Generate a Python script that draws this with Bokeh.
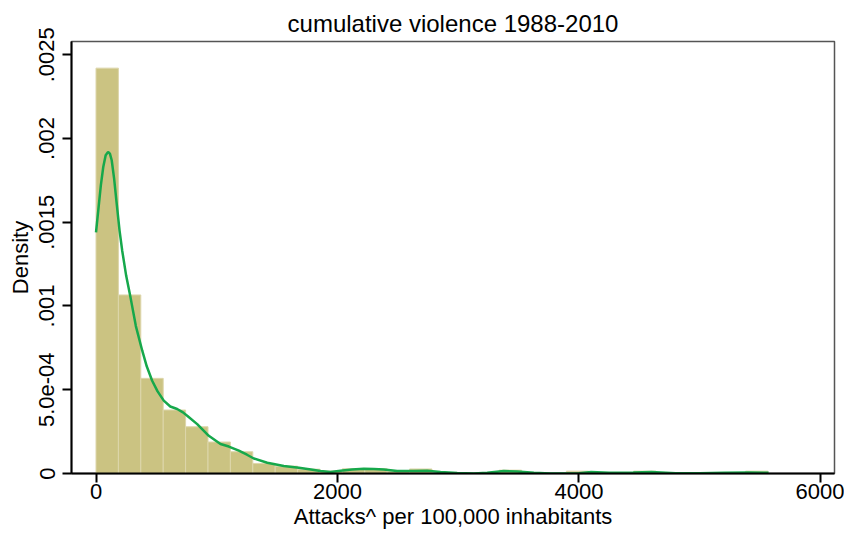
from bokeh.plotting import figure
from bokeh.models import FixedTicker, Range1d
from bokeh.embed import file_html
from bokeh.resources import INLINE

# ---- data ----
bin_start = 0.0
bin_width = 185.5
hist_density = [0.00242, 0.001066, 0.000568, 0.000379, 0.000279, 0.000188,
                0.00013, 0.00006, 0.000044, 0.000026, 0.000014, 0.000028,
                0.000028, 0.000014, 0.000027, 0.0, 0.0, 0.0, 0.00002, 0.0,
                0.0, 0.000014, 0.0, 0.0, 0.000014, 0.0, 0.0, 0.0, 0.0, 0.000014]

kde_x = [0, 20, 40, 60, 80, 100, 115, 130, 150, 170, 195, 217, 250, 286, 330,
         383, 420, 465, 510, 561, 615, 672, 720, 755, 838, 934, 1031, 1100,
         1183, 1250, 1307, 1418, 1555, 1680, 1780, 1859, 1942, 2025, 2120, 2218,
         2300, 2383, 2494, 2632, 2743, 2853, 2991, 3129, 3240, 3377, 3488,
         3626, 3764, 3900, 4000, 4100, 4250, 4450, 4600, 4800, 5000, 5200,
         5400, 5570]
kde_y = [0.00144, 0.00158, 0.00172, 0.00183, 0.00190, 0.00192, 0.00191,
         0.00187, 0.00176, 0.00162, 0.00145, 0.00133, 0.00118, 0.00105, 0.00088,
         0.000733, 0.00064, 0.000554, 0.00049, 0.000435, 0.0004, 0.000385,
         0.000365, 0.000345, 0.000295, 0.000225, 0.000176, 0.000161, 0.000136,
         0.000112, 0.0000896, 0.000064, 0.0000442, 0.000034, 0.000024,
         0.0000143, 0.0000084, 0.000016, 0.000024, 0.000028, 0.000027,
         0.000024, 0.0000143, 0.0000143, 0.000016, 0.0000084, 0.0000024, 0.0,
         0.000004, 0.0000143, 0.000012, 0.000004, 0.0000005, 0.0000005,
         0.000002, 0.000009, 0.000004, 0.000006, 0.000009, 0.000002, 0.000001,
         0.000004, 0.000006, 0.000004]

x_ticks = [0, 2000, 4000, 6000]
y_ticks = [0, 0.0005, 0.001, 0.0015, 0.002, 0.0025]
y_tick_labels = ["0", "5.0e-04", ".001", ".0015", ".002", ".0025"]

title_text = "cumulative violence 1988-2010"
x_label = "Attacks^ per 100,000 inhabitants"
y_label = "Density"

# ---- figure ----
FONT = "Liberation Sans"
p = figure(width=844, height=533, output_backend="svg", toolbar_location=None,
           x_range=Range1d(-203, 6116), y_range=Range1d(0, 0.002579),
           min_border_left=71, min_border_right=10, min_border_top=41,
           min_border_bottom=60, title=title_text)
p.background_fill_color = "white"
p.border_fill_color = "white"
p.grid.visible = False
p.outline_line_color = "#555555"
p.outline_line_width = 1.5

p.title.align = "center"
p.title.text_font = FONT
p.title.text_font_size = "24px"
p.title.text_font_style = "normal"
p.title.text_color = "black"

edges = [bin_start + i * bin_width for i in range(len(hist_density) + 1)]
p.quad(left=edges[:-1], right=edges[1:], bottom=0, top=hist_density,
       fill_color="#cbc382", line_color="#ddd6ab", line_width=1)

p.line(kde_x, kde_y, line_color="#16a84b", line_width=2.5)

for ax in (p.xaxis[0], p.yaxis[0]):
    ax.axis_line_color = "black"
    ax.axis_line_width = 2
    ax.major_tick_line_color = "black"
    ax.major_tick_line_width = 2
    ax.major_tick_out = 9
    ax.major_tick_in = 0
    ax.minor_tick_line_color = None
    ax.major_label_text_font = FONT
    ax.major_label_text_font_size = "22px"
    ax.major_label_text_color = "black"
    ax.axis_label_text_font = FONT
    ax.axis_label_text_font_size = "22px"
    ax.axis_label_text_font_style = "normal"
    ax.axis_label_text_color = "black"

p.xaxis.ticker = FixedTicker(ticks=x_ticks)
p.xaxis.major_label_standoff = 1
p.xaxis.axis_label = x_label
p.xaxis.axis_label_standoff = 2

p.yaxis.ticker = FixedTicker(ticks=y_ticks)
p.yaxis.major_label_overrides = {t: l for t, l in zip(y_ticks, y_tick_labels)}
p.yaxis.major_label_orientation = "vertical"
p.yaxis.major_label_standoff = 8
p.yaxis.axis_label = y_label
p.yaxis.axis_label_standoff = 4

open("out.html", "w").write(file_html(p, INLINE))
